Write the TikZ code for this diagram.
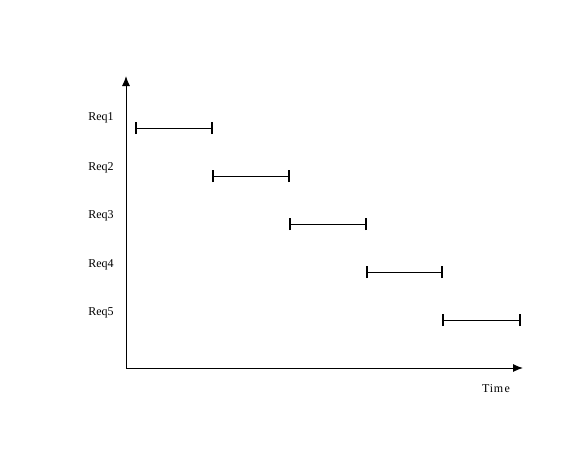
\documentclass[tikz,border=0pt]{standalone}
\usepackage{fontspec}
\setmainfont{Liberation Serif}
\usetikzlibrary{arrows.meta}
\begin{document}
\begin{tikzpicture}[x=1pt,y=-1pt,
  axis/.style={line width=1pt,-{Latex[length=10pt,width=8pt]}},
  bar/.style={line width=1.2pt},
  lbl/.style={font=\fontsize{12}{14}\selectfont,inner sep=0pt}]
\useasboundingbox (0,0) rectangle (574,472);
\coordinate (O) at (126,368);
\coordinate (Ytop) at (126,76);
\coordinate (Xend) at (523,368);
\draw[axis] (O) -- (Ytop);
\draw[axis] (O) -- (Xend);
\foreach \i/\xa/\xb/\y in {1/136/212/128,2/213/289/176,3/290/366/224,4/367/442/272,5/443/520/320}{
  \coordinate (s\i) at (\xa,\y);
  \coordinate (e\i) at (\xb,\y);
  \draw[line width=1pt] (s\i) -- (e\i);
  \draw[bar] ([yshift=-6pt]s\i) -- ([yshift=6pt]s\i);
  \draw[bar] ([yshift=-6pt]e\i) -- ([yshift=6pt]e\i);
}
\node[lbl] (r1) at (101,118) {Req1};
\node[lbl] (r2) at (101,168) {Req2};
\node[lbl] (r3) at (101,216) {Req3};
\node[lbl] (r4) at (101,265) {Req4};
\node[lbl] (r5) at (101,313) {Req5};
\node[lbl] (t) at (496,389) {T\kern0.5pt i\kern0.5pt m\kern1.5pt e};
\end{tikzpicture}
\end{document}
